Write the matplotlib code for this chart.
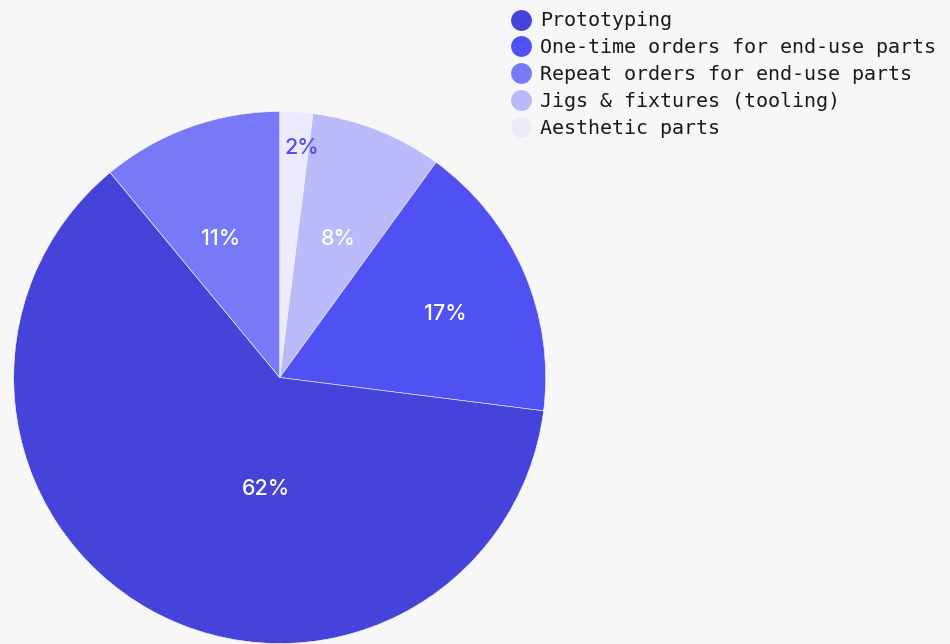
import matplotlib
matplotlib.use("Agg")
import matplotlib.pyplot as plt
from matplotlib.lines import Line2D

# slices, clockwise from the top
slice_names = ["Aesthetic parts", "Jigs & fixtures (tooling)",
               "One-time orders for end-use parts", "Prototyping",
               "Repeat orders for end-use parts"]
slice_values = [2, 8, 17, 62, 11]
slice_colors = ["#ECEBFD", "#BAB9FA", "#5051F3", "#4543D9", "#7779F6"]
label_colors = ["#5051F3", "white", "white", "white", "white"]
# where the percentage text sits (pie radius = 1)
label_xy = [(0.082, 0.862), (0.219, 0.521), (0.621, 0.238),
            (-0.052, -0.420), (-0.221, 0.520)]

# legend order
legend_names = ["Prototyping", "One-time orders for end-use parts",
                "Repeat orders for end-use parts", "Jigs & fixtures (tooling)",
                "Aesthetic parts"]

bg = "#F7F7F7"
W, H = 950, 644
fig = plt.figure(figsize=(W / 100, H / 100), dpi=100, facecolor=bg)

cx, cy, r = 279.7, 377.5, 266
ax = fig.add_axes([(cx - r) / W, (H - cy - r) / H, 2 * r / W, 2 * r / H])
ax.set_facecolor(bg)
ax.axis("off")

wedges, _ = ax.pie(slice_values, colors=slice_colors, startangle=90,
                   counterclock=False, radius=1,
                   wedgeprops=dict(linewidth=0.4, edgecolor=bg))
ax.set_xlim(-1, 1)
ax.set_ylim(-1, 1)
ax.set_aspect("equal")

for v, (x, y), c in zip(slice_values, label_xy, label_colors):
    ax.text(x, y, f"{v}%", ha="center", va="center", color=c,
            fontsize=15.5, fontweight="medium", family=["Inter", "DejaVu Sans"])

color_of = dict(zip(slice_names, slice_colors))
handles = [Line2D([], [], linestyle="none", marker="o", markersize=15,
                  markerfacecolor=color_of[n], markeredgewidth=0)
           for n in legend_names]
fig.legend(handles, legend_names, loc="upper left",
           bbox_to_anchor=(511 / W, 1 - 11.5 / H), frameon=False,
           borderpad=0, borderaxespad=0, handlelength=1.0,
           handletextpad=0.45, labelspacing=0.39,
           prop=dict(family="DejaVu Sans Mono", size=14.4),
           labelcolor="#1a1a1a")

fig.savefig("out.png", dpi=100, facecolor=bg)
